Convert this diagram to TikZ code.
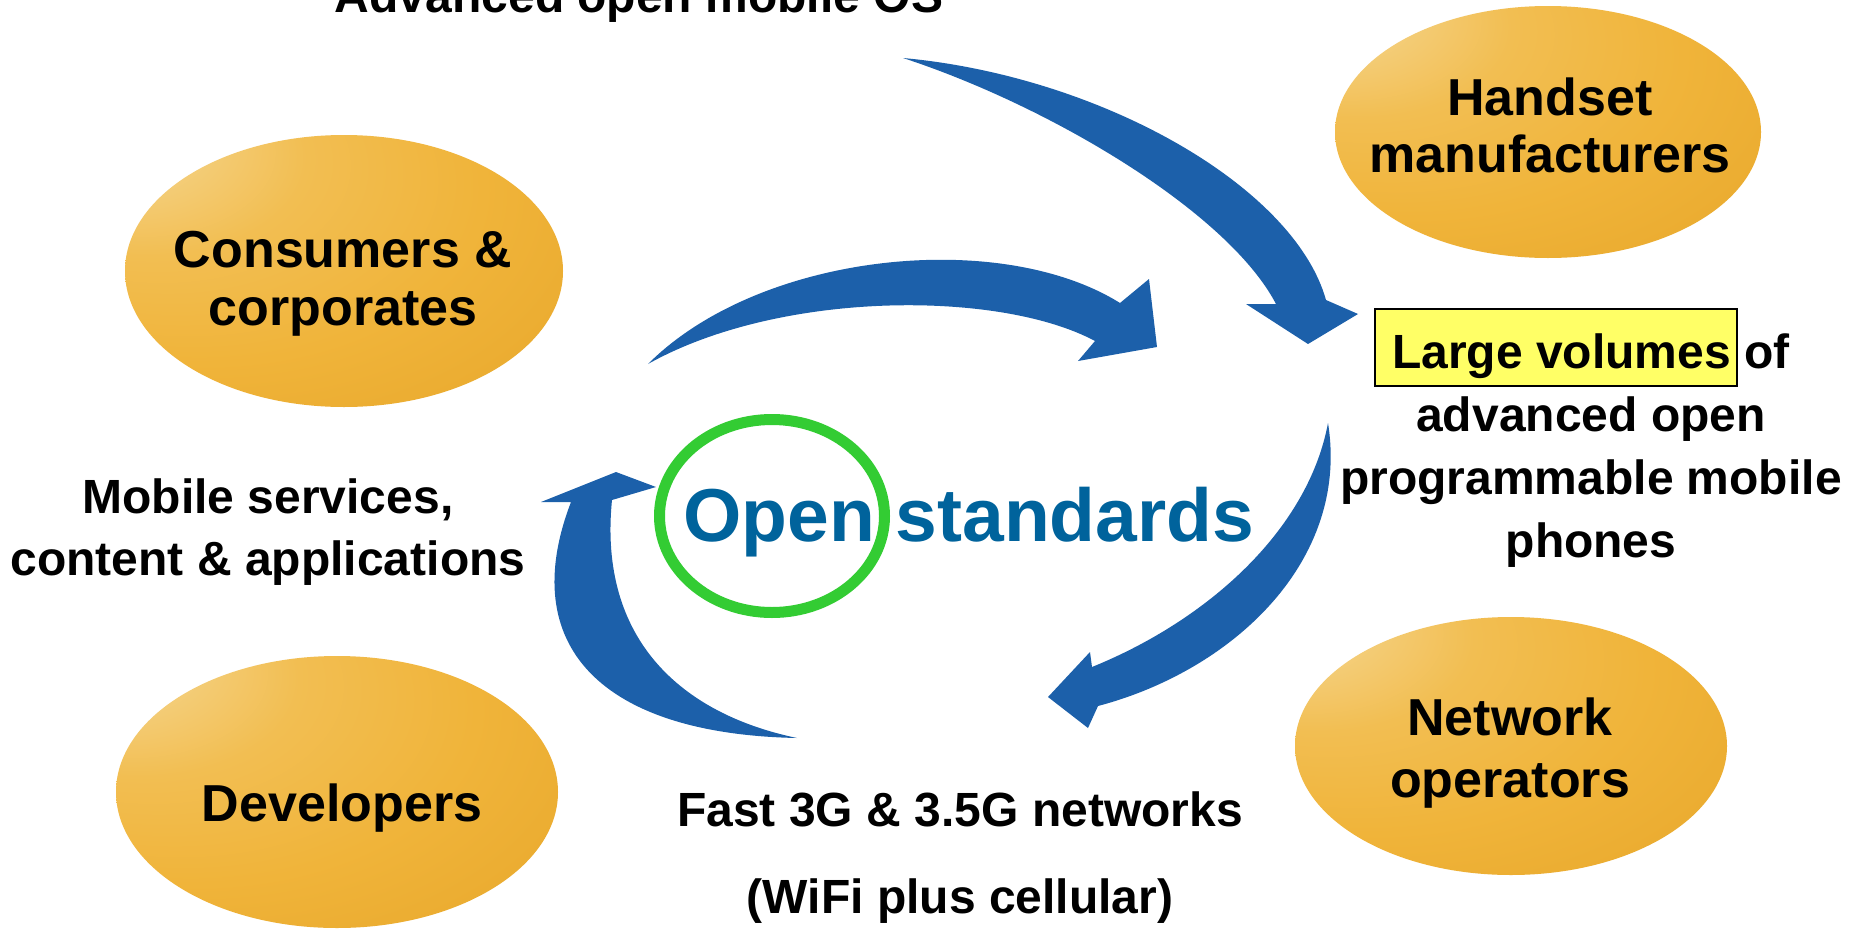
\documentclass[tikz,border=0pt]{standalone}
\usepackage{fontspec}
\setmainfont{Liberation Sans}
\usetikzlibrary{shapes.geometric}

\definecolor{arrowblue}{RGB}{28,96,170}
\definecolor{stdblue}{RGB}{0,99,156}
\definecolor{ringgreen}{RGB}{51,204,51}
\definecolor{hlyellow}{RGB}{255,255,102}
\definecolor{eggA}{HTML}{F7E2B0}
\definecolor{eggB}{HTML}{F4D080}
\definecolor{eggC}{HTML}{F2BE52}
\definecolor{eggD}{HTML}{F0B43A}
\definecolor{eggE}{HTML}{E8A82C}
\definecolor{eggF}{HTML}{C48C1E}

% golden egg: highlight towards the upper left, darker rim towards the lower right
\pgfdeclareradialshading{goldegg}{\pgfpoint{-30bp}{28bp}}{%
  color(0bp)=(eggA); color(8bp)=(eggB); color(18bp)=(eggC);
  color(32bp)=(eggD); color(48bp)=(eggE); color(58bp)=(eggF); color(70bp)=(eggF)}

\begin{document}
\begin{tikzpicture}[x=1pt,y=-1pt,
  egg/.style={ellipse, shade, shading=goldegg, inner sep=0pt},
  eggtext/.style={font=\fontsize{52}{58}\selectfont\bfseries, align=center, anchor=base, inner sep=0pt},
  caption/.style={font=\fontsize{48}{62}\selectfont\bfseries, align=center, anchor=base, inner sep=0pt},
  bluearrow/.style={fill=arrowblue},
]
\useasboundingbox (0,0) rectangle (1853,932);
\clip (0,0) rectangle (1853,932);
\fill[white] (0,0) rectangle (1853,932);

% the four stakeholder eggs
\node[egg, minimum width=438, minimum height=272] (consumers)  at (344,271)  {};
\node[egg, minimum width=426, minimum height=252] (handset)    at (1548,132) {};
\node[egg, minimum width=442, minimum height=272] (developers) at (337,792)  {};
\node[egg, minimum width=432, minimum height=258] (operators)  at (1511,746) {};

% multi-line labels are anchored at the baseline of their last line
\node[eggtext] (consumerslbl)  at (343,325)  {Consumers \&\\corporates};
\node[eggtext, font=\fontsize{52}{57}\selectfont\bfseries] (handsetlbl) at (1550,172) {Handset\\manufacturers};
\node[eggtext] (developerslbl) at (342,821)  {Developers};
\node[eggtext, font=\fontsize{52}{62}\selectfont\bfseries] (operatorslbl) at (1510,797) {Network\\operators};

% curved arrows of the cycle
\fill[bluearrow] (903,58) .. controls (1100,76) and (1294,186) .. (1326,300)
  -- (1358,314) -- (1308,344) -- (1246,304) -- (1276,304)
  .. controls (1228,212) and (1050,106) .. (903,58) -- cycle;
\fill[bluearrow] (648,364) .. controls (760,252) and (1000,228) .. (1120,303)
  -- (1149,279) -- (1157,347) -- (1078,361) -- (1095,341)
  .. controls (1000,290) and (780,290) .. (648,364) -- cycle;
\fill[bluearrow] (1328,423) .. controls (1350,560) and (1234,670) .. (1098,706)
  -- (1088,728) -- (1048,697) -- (1090,652) -- (1092,667)
  .. controls (1208,620) and (1308,530) .. (1328,423) -- cycle;
\fill[bluearrow] (797,738) .. controls (682,714) and (598,640) .. (612,500)
  -- (656,487) -- (616,472) -- (541,502) -- (571,502)
  .. controls (516,645) and (600,734) .. (797,738) -- cycle;

% centre title with the ring round "Open"
\node[ellipse, draw=ringgreen, line width=11pt, minimum width=225, minimum height=193, inner sep=0pt] (ring) at (772,516) {};
\node[font=\fontsize{75}{80}\selectfont\bfseries, text=stdblue, anchor=base west, inner sep=0pt] (stdlbl) at (683,541) {Open standards};

% highlighted phrase
\draw[fill=hlyellow, draw=black, line width=1.5pt] (1375,309) rectangle (1737,386);

\node[caption] (oslbl)       at (639,12)   {Advanced open mobile OS};
\node[caption] (serviceslbl) at (268,575)  {Mobile services,\\content \& applications};
\node[caption, font=\fontsize{48}{62.7}\selectfont\bfseries] (phoneslbl) at (1591,557) {Large volumes of\\advanced open\\programmable mobile\\phones};
\node[caption] (netlbl)      at (960,826)  {Fast 3G \& 3.5G networks};
\node[caption] (wifilbl)     at (960,913)  {(WiFi plus cellular)};
\end{tikzpicture}
\end{document}
